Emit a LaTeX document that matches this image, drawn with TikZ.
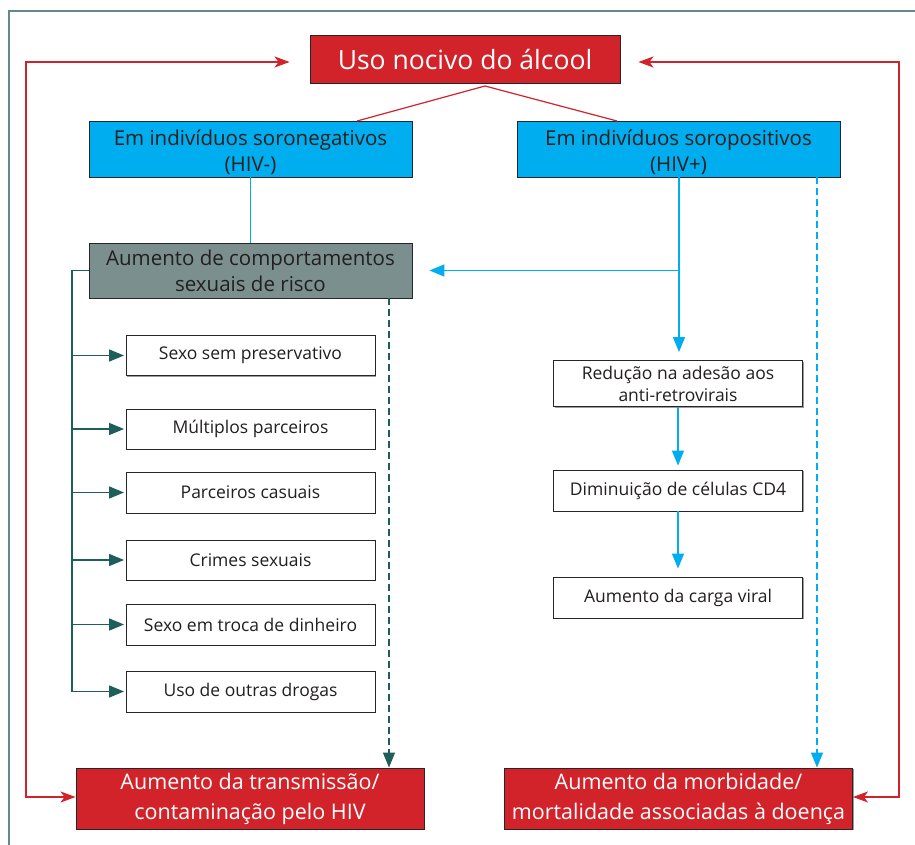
\documentclass[tikz,border=0pt]{standalone}
\usepackage{fontspec}
\setmainfont{Open Sans}
\usetikzlibrary{arrows.meta,shadows}
\definecolor{myred}{HTML}{D2232A}
\definecolor{mycyan}{HTML}{00AEEF}
\definecolor{mygray}{HTML}{7A8F8E}
\definecolor{myteal}{HTML}{1F5F5B}
\definecolor{myframe}{HTML}{5F8C89}
\definecolor{txt}{HTML}{231F20}
\newcommand{\lowered}[2]{\raisebox{-#1}[\height][\depth]{\begin{tabular}{@{}c@{}}#2\end{tabular}}}
\tikzset{
  base/.style={draw=black!85,line width=0.9pt,inner sep=0pt,align=center,
    drop shadow={shadow xshift=1.2pt,shadow yshift=-1.2pt,fill=black!55,opacity=0.7}},
  redbox/.style={base,fill=myred,text=white,font=\fontsize{21.5}{30}\selectfont},
  bluebox/.style={base,fill=mycyan,text=txt,font=\fontsize{20.5}{26}\selectfont,minimum width=323pt,minimum height=56pt},
  graybox/.style={base,fill=mygray,text=txt,font=\fontsize{20.5}{26}\selectfont,minimum width=323pt,minimum height=55pt},
  whitebox/.style={base,fill=white,text=txt,font=\fontsize{17.5}{22}\selectfont,minimum width=249pt},
  tealarr/.style={draw=myteal,line width=1.4pt,-{Triangle[length=15pt,width=12pt]}},
  bluearr/.style={draw=mycyan,line width=1.4pt,-{Triangle[length=15pt,width=12pt]}},
  redarr/.style={draw=myred,line width=1.2pt,-{Stealth[length=15pt,width=11pt,inset=4pt]}},
  redline/.style={draw=myred,line width=1.2pt},
  dashpat/.style={dash pattern=on 7pt off 4pt},
}
\begin{document}
\begin{tikzpicture}[x=1pt,y=-1pt]
\useasboundingbox (0,0) rectangle (915,845);
\fill[white] (0,0) rectangle (915,845);
% frame
\draw[myframe,line width=1.5pt] (9,845) -- (9,11) -- (915,11);

% nodes
\node[redbox,font=\fontsize{26.5}{30}\selectfont,minimum width=310pt,minimum height=48pt] (title) at (465,59) {Uso nocivo do álcool};
\node[bluebox] (neg) at (250.5,149) {\lowered{4pt}{Em indivíduos soronegativos\\(HIV-)}};
\node[bluebox] (pos) at (678.5,149) {\lowered{4pt}{Em indivíduos soropositivos\\(HIV+)}};
\node[graybox] (comp) at (250.5,270.5) {Aumento de comportamentos\\sexuais de risco};

\node[whitebox,minimum height=40pt] (w1) at (250.5,355.5) {Sexo sem preservativo};
\node[whitebox,minimum height=40pt] (w2) at (250.5,429) {Múltiplos parceiros};
\node[whitebox,minimum height=41pt] (w3) at (250.5,492.5) {Parceiros casuais};
\node[whitebox,minimum height=40pt] (w4) at (250.5,560) {Crimes sexuais};
\node[whitebox,minimum height=41pt] (w5) at (250.5,624.5) {Sexo em troca de dinheiro};
\node[whitebox,minimum height=41pt] (w6) at (250.5,691.5) {Uso de outras drogas};

\node[whitebox,minimum height=46pt] (r1) at (678,383.5) {Redução na adesão aos\\anti-retrovirais};
\node[whitebox,minimum height=41pt] (r2) at (678,490.5) {Diminuição de células CD4};
\node[whitebox,minimum height=41pt] (r3) at (678,597.5) {Aumento da carga viral};

\node[redbox,minimum width=348pt,minimum height=61pt] (trans) at (250,798.5) {Aumento da transmissão/\\contaminação pelo HIV};
\node[redbox,minimum width=348pt,minimum height=61pt] (morb) at (678.5,798.5) {Aumento da morbidade/\\mortalidade associadas à doença};

% red lines from title
\coordinate (apex) at (485,86);
\coordinate (lend) at (357,121);
\coordinate (rend) at (617,121);
\draw[redline] (lend) -- (apex) -- (rend);

% outer red loops
\coordinate (lt) at (26,62);
\coordinate (lb) at (26,797);
\coordinate (rt) at (899,62);
\coordinate (rb) at (899,797);
\draw[redarr,shorten >=20pt] (lb) -- (lt) -- (title.west |- lt);
\draw[redarr] (lt) -- (lb) -- (trans.west |- lb);
\draw[redarr,shorten >=18pt] (rb) -- (rt) -- (title.east |- rt);
\draw[redarr] (rt) -- (rb) -- (morb.east |- rb);

% left branch
\draw[mycyan,line width=1.4pt] (neg.south -| comp.north) -- (comp.north);
\coordinate (tl) at (72,270.5);
\coordinate (tb) at (72,691.5);
\draw[myteal,line width=1.4pt] (comp.west) -- (tl) -- (tb);
\foreach \w in {w1,w2,w3,w4,w5,w6}
  \draw[tealarr,shorten >=1.5pt] (tl |- \w.west) -- (\w.west);

% dashed to transmission
\coordinate (dl) at (389,298);
\draw[tealarr,dashpat] (dl) -- (dl |- trans.north);

% right branch
\coordinate (pb) at (679,177);
\coordinate (pj) at (679,270.5);
\draw[bluearr,shorten >=8pt] (pb) -- (pb |- r1.north);
\draw[bluearr,shorten >=17pt] (pj) -- (comp.east |- pj);
\draw[bluearr,shorten >=4pt] (r1.south) -- (r2.north);
\draw[bluearr,shorten >=8pt] (r2.south) -- (r3.north);

\coordinate (dr) at (817,177);
\draw[bluearr,dashpat] (dr) -- (dr |- morb.north);
\end{tikzpicture}
\end{document}
